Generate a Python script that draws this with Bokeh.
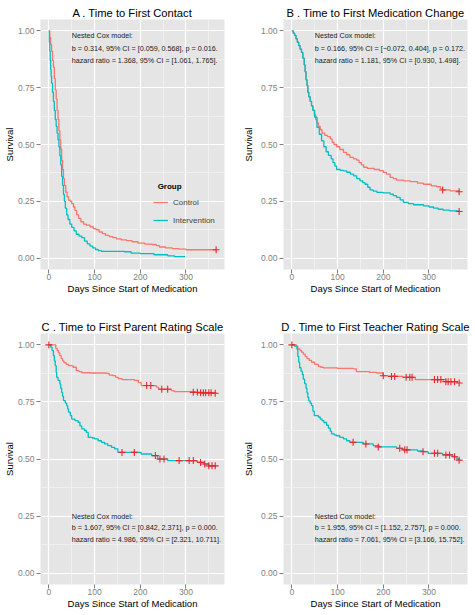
from bokeh.plotting import figure
from bokeh.models import Range1d, FixedTicker, Label, Legend, LegendItem, NumeralTickFormatter
from bokeh.layouts import gridplot
from bokeh.embed import file_html
from bokeh.resources import INLINE

FONT = "Liberation Sans"
CTRL = "#F8766D"
INTV = "#00BFC4"
CENS = "#E8262E"

X_TICKS = [0, 100, 200, 300]
X_MINOR = [50, 150, 250, 350]
Y_TICKS = [0.0, 0.25, 0.5, 0.75, 1.0]
Y_MINOR = [0.125, 0.375, 0.625, 0.875]
X_LABEL = "Days Since Start of Medication"
Y_LABEL = "Survival"
GROUPS = ["Control", "Intervention"]
LEGEND_TITLE = "Group"

# ---------- Panel A : Time to First Contact ----------
A_title = "A . Time to First Contact"
A_ctrl_days = [0, 2, 4, 6, 8, 10, 12, 14, 16, 18, 20, 22, 24, 26, 28, 30, 32, 34, 37, 40, 43, 47, 50, 54, 57, 61, 65,
               70, 76, 82, 90, 97, 103, 110, 117, 124, 132, 140, 148, 158, 170, 182, 195, 210, 225, 235, 242, 255,
               270, 285, 300, 366]
A_ctrl_surv = [1.0, 0.97, 0.94, 0.91, 0.87, 0.84, 0.79, 0.74, 0.70, 0.65, 0.61, 0.56, 0.52, 0.48, 0.43, 0.39, 0.35,
               0.32, 0.29, 0.27, 0.255, 0.25, 0.24, 0.225, 0.21, 0.19, 0.175, 0.16, 0.15, 0.145, 0.138, 0.13, 0.125,
               0.115, 0.108, 0.10, 0.095, 0.09, 0.085, 0.08, 0.077, 0.072, 0.066, 0.062, 0.06, 0.055, 0.049, 0.045,
               0.042, 0.04, 0.037, 0.037]
A_int_days = [0, 1, 2, 3, 4, 5, 6, 8, 10, 12, 14, 16, 18, 20, 22, 24, 26, 28, 30, 32, 34, 36, 39, 42, 46, 50, 55, 60,
              66, 72, 78, 84, 90, 96, 102, 108, 115, 140, 165, 180, 200, 230, 260, 275, 298]
A_int_surv = [1.0, 0.95, 0.91, 0.87, 0.83, 0.80, 0.77, 0.73, 0.69, 0.65, 0.61, 0.58, 0.55, 0.52, 0.49, 0.45, 0.41,
              0.36, 0.32, 0.28, 0.25, 0.22, 0.19, 0.17, 0.15, 0.135, 0.12, 0.105, 0.097, 0.09, 0.075, 0.063, 0.053,
              0.045, 0.038, 0.033, 0.03, 0.03, 0.028, 0.022, 0.02, 0.015, 0.01, 0.007, 0.007]
A_cens_days = [366]
A_cens_surv = [0.037]
A_text = ["Nested Cox model:",
          "b = 0.314, 95% CI = [0.059, 0.568], p = 0.016.",
          "hazard ratio = 1.368, 95% CI = [1.061, 1.765]."]

# ---------- Panel B : Time to First Medication Change ----------
B_title = "B . Time to First Medication Change"
B_ctrl_days = [0, 3, 6, 9, 12, 15, 18, 21, 24, 27, 29, 31, 33, 35, 37, 40, 43, 46, 49, 52, 55, 58, 62, 66, 72, 78,
               84, 88, 92, 98, 105, 113, 120, 127, 135, 142, 147, 152, 157, 165, 180, 192, 200, 207, 215, 222, 229,
               245, 259, 275, 288, 305, 317, 325, 330, 346, 366]
B_ctrl_surv = [1.0, 0.99, 0.98, 0.965, 0.95, 0.935, 0.92, 0.905, 0.88, 0.85, 0.82, 0.785, 0.76, 0.73, 0.71, 0.69,
               0.67, 0.65, 0.63, 0.61, 0.595, 0.58, 0.565, 0.55, 0.54, 0.535, 0.525, 0.51, 0.50, 0.49, 0.478, 0.465,
               0.455, 0.443, 0.437, 0.431, 0.42, 0.41, 0.40, 0.395, 0.39, 0.385, 0.377, 0.37, 0.355, 0.35, 0.343,
               0.34, 0.337, 0.33, 0.325, 0.318, 0.314, 0.305, 0.30, 0.296, 0.292]
B_int_days = [0, 3, 6, 9, 12, 15, 18, 21, 24, 27, 29, 31, 33, 35, 37, 40, 43, 46, 50, 55, 60, 65, 70, 75, 80, 86, 90,
              94, 98, 106, 113, 120, 128, 135, 142, 149, 155, 160, 166, 171, 178, 186, 200, 215, 222, 229, 237, 244,
              255, 266, 288, 300, 310, 320, 331, 345, 366]
B_int_surv = [1.0, 0.99, 0.98, 0.965, 0.95, 0.935, 0.92, 0.905, 0.88, 0.85, 0.82, 0.785, 0.76, 0.73, 0.71, 0.69,
              0.67, 0.65, 0.62, 0.575, 0.545, 0.516, 0.49, 0.468, 0.452, 0.437, 0.42, 0.405, 0.39, 0.386, 0.384,
              0.378, 0.37, 0.362, 0.35, 0.34, 0.332, 0.325, 0.312, 0.30, 0.295, 0.289, 0.287, 0.282, 0.275, 0.267,
              0.256, 0.245, 0.24, 0.235, 0.23, 0.225, 0.22, 0.215, 0.211, 0.208, 0.205]
B_cens_days = [330, 366, 366]
B_cens_surv = [0.30, 0.292, 0.205]
B_text = ["Nested Cox model:",
          "b = 0.166, 95% CI = [\u22120.072, 0.404], p = 0.172.",
          "hazard ratio = 1.181, 95% CI = [0.930, 1.498]."]

# ---------- Panel C : Time to First Parent Rating Scale ----------
C_title = "C . Time to First Parent Rating Scale"
C_ctrl_days = [0, 15, 18, 21, 24, 27, 30, 33, 38, 43, 53, 60, 66, 72, 90, 125, 132, 140, 146, 152, 160, 187, 196,
               202, 235, 240, 268, 274, 320, 340, 366]
C_ctrl_surv = [1.0, 0.985, 0.975, 0.965, 0.953, 0.94, 0.93, 0.922, 0.915, 0.909, 0.902, 0.887, 0.883, 0.878, 0.877,
               0.875, 0.868, 0.865, 0.858, 0.852, 0.848, 0.845, 0.835, 0.822, 0.815, 0.806, 0.80, 0.795, 0.792,
               0.79, 0.788]
C_int_days = [0, 4, 7, 10, 12, 14, 16, 17, 20, 24, 26, 28, 30, 32, 36, 39, 41, 43, 47, 50, 57, 64, 68, 72, 78, 82,
              86, 95, 100, 108, 115, 122, 129, 137, 144, 151, 202, 225, 238, 260, 325, 339, 350, 366]
C_int_surv = [1.0, 0.99, 0.975, 0.953, 0.93, 0.909, 0.88, 0.858, 0.845, 0.829, 0.81, 0.792, 0.775, 0.756, 0.745,
              0.734, 0.72, 0.705, 0.69, 0.675, 0.668, 0.661, 0.645, 0.632, 0.625, 0.617, 0.595, 0.592, 0.588, 0.58,
              0.573, 0.566, 0.559, 0.551, 0.544, 0.529, 0.522, 0.515, 0.50, 0.493, 0.485, 0.478, 0.47, 0.47]
C_cens_days = [0, 214, 223, 247, 260, 316, 325, 332, 338, 343, 350, 355, 364,
               160, 187, 233, 243, 252, 285, 307, 316, 332, 341, 350, 357, 364]
C_cens_surv = [1.0, 0.822, 0.822, 0.806, 0.806, 0.792, 0.792, 0.79, 0.79, 0.79, 0.79, 0.79, 0.788,
               0.529, 0.529, 0.515, 0.50, 0.50, 0.493, 0.493, 0.493, 0.485, 0.478, 0.47, 0.47, 0.47]
C_text = ["Nested Cox model:",
          "b = 1.607, 95% CI = [0.842, 2.371], p = 0.000.",
          "hazard ratio = 4.986, 95% CI = [2.321, 10.711]."]

# ---------- Panel D : Time to First Teacher Rating Scale ----------
D_title = "D . Time to First Teacher Rating Scale"
D_ctrl_days = [0, 10, 13, 18, 21, 25, 29, 33, 38, 43, 50, 58, 63, 69, 100, 134, 141, 170, 185, 199, 210, 243, 270,
               337, 362]
D_ctrl_surv = [1.0, 0.995, 0.982, 0.975, 0.968, 0.96, 0.95, 0.94, 0.932, 0.924, 0.915, 0.906, 0.902, 0.899, 0.897,
               0.895, 0.883, 0.88, 0.877, 0.865, 0.862, 0.858, 0.848, 0.839, 0.833]
D_int_days = [0, 6, 11, 13, 15, 17, 20, 23, 25, 28, 31, 33, 35, 37, 40, 43, 46, 49, 58, 62, 66, 70, 76, 80, 84, 87,
              93, 98, 105, 113, 120, 127, 156, 178, 191, 229, 243, 275, 287, 298, 330, 352, 361, 366]
D_int_surv = [1.0, 0.995, 0.982, 0.95, 0.924, 0.90, 0.885, 0.87, 0.85, 0.83, 0.81, 0.79, 0.77, 0.755, 0.745, 0.734,
              0.71, 0.69, 0.684, 0.675, 0.668, 0.66, 0.648, 0.635, 0.622, 0.61, 0.605, 0.602, 0.595, 0.588, 0.58,
              0.573, 0.566, 0.559, 0.553, 0.547, 0.54, 0.535, 0.532, 0.525, 0.518, 0.51, 0.50, 0.495]
D_cens_days = [0, 200, 218, 225, 250, 258, 263, 312, 319, 326, 337, 342, 348, 356, 366,
               134, 162, 189, 236, 247, 252, 287, 312, 319, 337, 345, 356, 366]
D_cens_surv = [1.0, 0.865, 0.862, 0.862, 0.858, 0.858, 0.858, 0.848, 0.848, 0.848, 0.839, 0.839, 0.839, 0.839,
               0.833, 0.573, 0.566, 0.553, 0.547, 0.54, 0.54, 0.532, 0.525, 0.525, 0.518, 0.518, 0.51, 0.495]
D_text = ["Nested Cox model:",
          "b = 1.955, 95% CI = [1.152, 2.757], p = 0.000.",
          "hazard ratio = 7.061, 95% CI = [3.166, 15.752]."]

TEXT_TOP_Y = [0.978, 0.922, 0.868]
TEXT_LOW_Y = [0.25, 0.20, 0.148]
TEXT_X = 50
X_MAX = 366
LEGEND_TITLE_XY = (238, 0.314)


def make_panel(title, cd, cs, idays, isurv, xc, yc, text, text_y, width, height, bl, bt, bb, br, lstand,
               legend=False):
    pad = 0.05 * X_MAX
    p = figure(width=width, height=height, x_range=Range1d(-pad, X_MAX + pad), y_range=Range1d(-0.05, 1.05),
               output_backend="svg", toolbar_location=None,
               min_border_left=bl, min_border_top=bt, min_border_bottom=bb, min_border_right=br)
    p.title.text = title
    p.title.align = "center"
    p.title.text_font = FONT
    p.title.text_font_size = "11.2px"
    p.title.text_font_style = "normal"
    p.title.text_color = "black"
    p.title.standoff = 1
    p.background_fill_color = "#E5E5E5"
    p.border_fill_color = "white"
    p.outline_line_color = None
    p.xaxis.ticker = FixedTicker(ticks=X_TICKS, minor_ticks=X_MINOR)
    p.yaxis.ticker = FixedTicker(ticks=Y_TICKS, minor_ticks=Y_MINOR)
    p.yaxis.formatter = NumeralTickFormatter(format="0.00")
    for g in (p.xgrid, p.ygrid):
        g.grid_line_color = "white"
        g.grid_line_width = 1.2
        g.minor_grid_line_color = "#F2F2F2"
        g.minor_grid_line_width = 0.8
    for ax in (p.xaxis, p.yaxis):
        ax.axis_line_color = None
        ax.major_tick_in = 0
        ax.major_tick_out = 4
        ax.major_tick_line_color = "#7F7F7F"
        ax.minor_tick_line_color = None
        ax.major_label_text_color = "#7F7F7F"
        ax.major_label_text_font = FONT
        ax.major_label_text_font_size = "8.5px"
        ax.axis_label_text_font = FONT
        ax.axis_label_text_font_size = "9.5px"
        ax.axis_label_text_font_style = "normal"
        ax.axis_label_text_color = "black"
    p.xaxis.major_label_standoff = 0
    p.xaxis.axis_label_standoff = 0
    p.yaxis.major_label_standoff = 2
    p.yaxis.axis_label_standoff = lstand
    p.xaxis.axis_label = X_LABEL
    p.yaxis.axis_label = Y_LABEL

    r_c = p.step(cd, cs, mode="after", line_color=CTRL, line_width=1.3)
    r_i = p.step(idays, isurv, mode="after", line_color=INTV, line_width=1.3)
    p.scatter(xc, yc, marker="cross", size=7, line_color=CENS, line_width=1.1)

    for t, y in zip(text, text_y):
        p.add_layout(Label(x=TEXT_X, y=y, text=t, text_align="left", text_baseline="middle",
                           text_font=FONT, text_font_size="7.2px", text_color="#1A1A1A"))
    if legend:
        lg = Legend(items=[LegendItem(label=GROUPS[0], renderers=[r_c]),
                           LegendItem(label=GROUPS[1], renderers=[r_i])],
                    location=(113, 40),
                    label_text_font=FONT, label_text_font_size="8px",
                    glyph_width=15, glyph_height=18, label_height=18, label_standoff=5, spacing=0,
                    padding=0, margin=0,
                    background_fill_alpha=0, border_line_alpha=0)
        p.add_layout(lg)
        p.add_layout(Label(x=LEGEND_TITLE_XY[0], y=LEGEND_TITLE_XY[1], text=LEGEND_TITLE, text_align="left",
                           text_baseline="middle", text_font=FONT, text_font_size="8px",
                           text_font_style="bold", text_color="black"))
    return p


pA = make_panel(A_title, A_ctrl_days, A_ctrl_surv, A_int_days, A_int_surv, A_cens_days, A_cens_surv,
                A_text, TEXT_TOP_Y, 237, 305, 39, 19, 36, 13, 0, legend=True)
pB = make_panel(B_title, B_ctrl_days, B_ctrl_surv, B_int_days, B_int_surv, B_cens_days, B_cens_surv,
                B_text, TEXT_TOP_Y, 236, 305, 46, 19, 36, 6, 4)
pC = make_panel(C_title, C_ctrl_days, C_ctrl_surv, C_int_days, C_int_surv, C_cens_days, C_cens_surv,
                C_text, TEXT_LOW_Y, 237, 308, 39, 28, 29, 13, 0)
pD = make_panel(D_title, D_ctrl_days, D_ctrl_surv, D_int_days, D_int_surv, D_cens_days, D_cens_surv,
                D_text, TEXT_LOW_Y, 236, 308, 46, 28, 29, 6, 4)

layout = gridplot([[pA, pB], [pC, pD]], toolbar_location=None)

open("out.html", "w").write(file_html(layout, INLINE))
